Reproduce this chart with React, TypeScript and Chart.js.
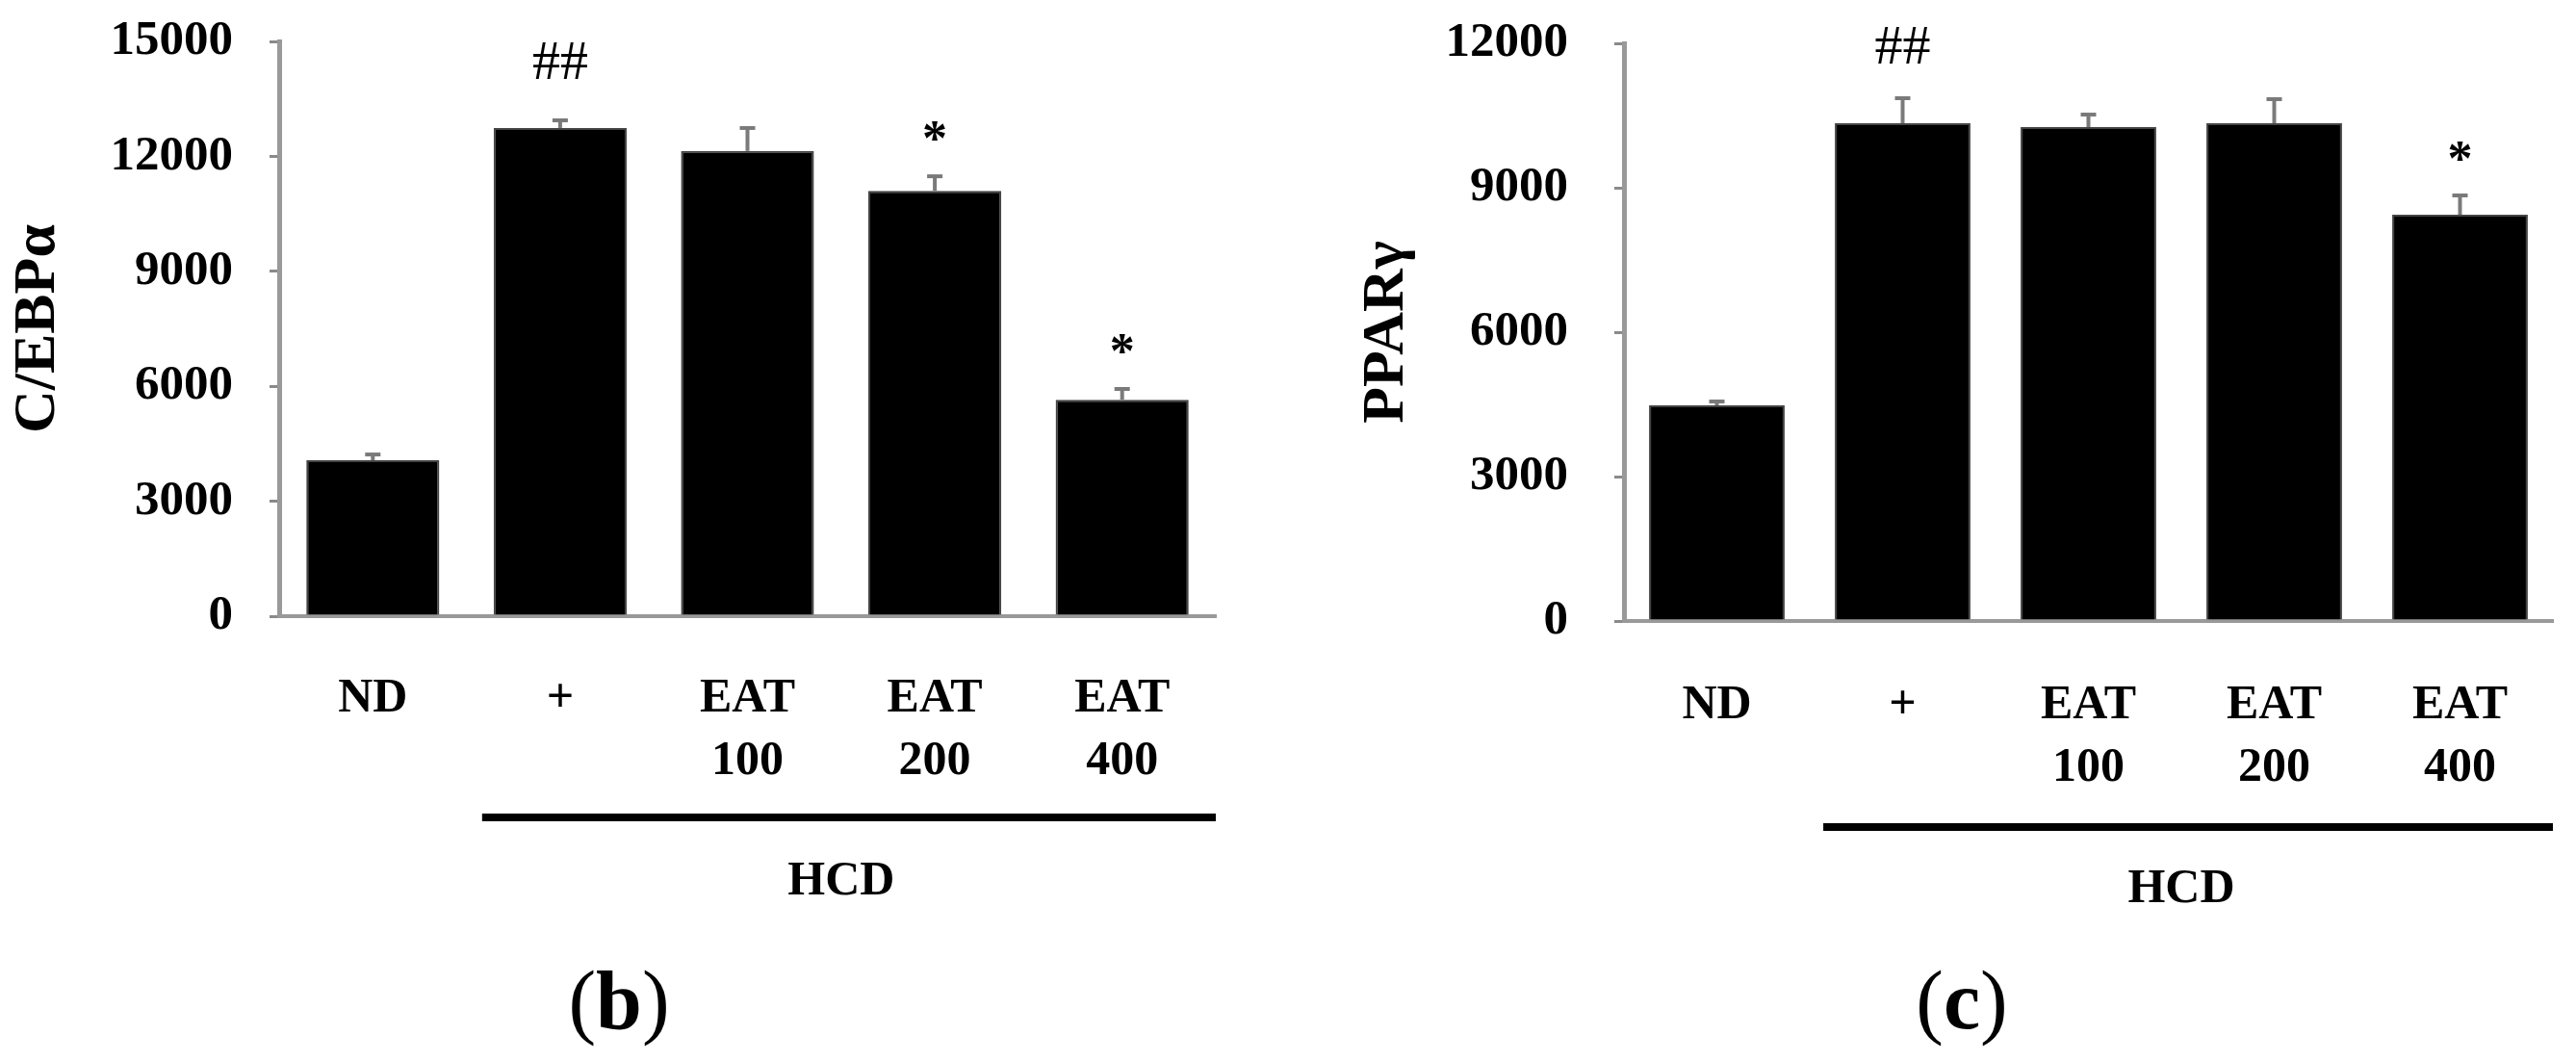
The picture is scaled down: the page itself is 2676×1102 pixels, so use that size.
import React, { useEffect, useRef } from 'react';
import { Chart, registerables } from 'chart.js';

Chart.register(...registerables);

// ---- data ----
const categories: (string | string[])[] = ['ND', '+', ['EAT', '100'], ['EAT', '200'], ['EAT', '400']];
const groupLabel = 'HCD';

const cebpaValues = [4070, 12740, 12140, 11100, 5650];
const cebpaErrors = [150, 200, 600, 380, 280];
const cebpaMarks = ['', '##', '', '*', '*'];
const cebpaTicks = [0, 3000, 6000, 9000, 12000, 15000];

const pparValues = [4480, 10340, 10260, 10340, 8440];
const pparErrors = [80, 520, 260, 500, 400];
const pparMarks = ['', '##', '', '', '*'];
const pparTicks = [0, 3000, 6000, 9000, 12000];

const FAMILY = '"Liberation Serif", "Times New Roman", serif';
const PAGE_H = 1102;

type PanelCfg = {
  left: number;
  width: number;
  axisWidth: number;
  xAxisHeight: number;
  padTop: number;
  padRight: number;
  title: string;
  titlePad: number;
  yTickPad: number;
  xTickPad: number;
  catPct: number;
  hashGap: number;
  starGap: number;
  bracketY: number;
  bracketTextY: number;
  panelLetter: string;
  panelLabelX: number;
  values: number[];
  errors: number[];
  marks: string[];
  ticks: number[];
};

const panels: PanelCfg[] = [
  {
    left: 0, width: 1340, axisWidth: 290, xAxisHeight: 462, padTop: 43, padRight: 77,
    title: 'C/EBPα', titlePad: 3, yTickPad: 38, xTickPad: 54, catPct: 0.71,
    hashGap: 62, starGap: 47, bracketY: 209, bracketTextY: 276,
    panelLetter: 'b', panelLabelX: 643,
    values: cebpaValues, errors: cebpaErrors, marks: cebpaMarks, ticks: cebpaTicks,
  },
  {
    left: 1340, width: 1336, axisWidth: 347, xAxisHeight: 457, padTop: 45, padRight: 24,
    title: 'PPARγ', titlePad: 64, yTickPad: 48, xTickPad: 56, catPct: 0.73,
    hashGap: 55, starGap: 46, bracketY: 214, bracketTextY: 279,
    panelLetter: 'c', panelLabelX: 698,
    values: pparValues, errors: pparErrors, marks: pparMarks, ticks: pparTicks,
  },
];

const overlayPlugin = {
  id: 'overlay',
  afterDatasetsDraw(chart: any, _args: any, opts: any) {
    const p: PanelCfg = opts.panel;
    const ctx: CanvasRenderingContext2D = chart.ctx;
    const meta = chart.getDatasetMeta(0);
    const y = chart.scales.y;
    const area = chart.chartArea;
    ctx.save();
    meta.data.forEach((bar: any, i: number) => {
      const v = p.values[i];
      const e = p.errors[i];
      const yTop = y.getPixelForValue(v + e);
      const yBar = y.getPixelForValue(v);
      ctx.strokeStyle = '#7a7a7a';
      ctx.lineWidth = 4;
      ctx.beginPath();
      ctx.moveTo(bar.x, yBar);
      ctx.lineTo(bar.x, yTop);
      ctx.stroke();
      ctx.beginPath();
      ctx.moveTo(bar.x - 8, yTop);
      ctx.lineTo(bar.x + 8, yTop);
      ctx.stroke();
      const mark = p.marks[i];
      if (mark) {
        const isHash = mark.indexOf('#') >= 0;
        ctx.font = isHash ? `normal 58px ${FAMILY}` : `bold 52px ${FAMILY}`;
        ctx.fillStyle = '#000';
        ctx.textAlign = 'center';
        ctx.textBaseline = 'alphabetic';
        const m = ctx.measureText(mark);
        const yc = yTop - (isHash ? p.hashGap : p.starGap);
        ctx.fillText(mark, bar.x, yc + (m.actualBoundingBoxAscent - m.actualBoundingBoxDescent) / 2);
      }
    });

    // group bracket
    const first = meta.data[1];
    const last = meta.data[meta.data.length - 1];
    const x0 = first.x - first.width / 2 - 12;
    const x1 = area.right;
    const by = area.bottom + p.bracketY;
    ctx.fillStyle = '#000';
    ctx.fillRect(x0, by - 4, x1 - x0, 8);
    ctx.font = `bold 50px ${FAMILY}`;
    ctx.textAlign = 'center';
    ctx.textBaseline = 'middle';
    ctx.fillText(groupLabel, (first.x + last.x) / 2, area.bottom + p.bracketTextY);

    // panel label "(b)" / "(c)"
    const parts: [string, string][] = [
      ['(', `normal 86px ${FAMILY}`],
      [p.panelLetter, `bold 86px ${FAMILY}`],
      [')', `normal 86px ${FAMILY}`],
    ];
    let total = 0;
    const widths = parts.map(([t, f]) => {
      ctx.font = f;
      const w = ctx.measureText(t).width;
      total += w;
      return w;
    });
    let cx = p.panelLabelX - total / 2;
    ctx.textAlign = 'left';
    ctx.textBaseline = 'alphabetic';
    parts.forEach(([t, f], i) => {
      ctx.font = f;
      ctx.fillText(t, cx, 1068);
      cx += widths[i];
    });
    ctx.restore();
  },
};

function Panel({ cfg }: { cfg: PanelCfg }) {
  const ref = useRef<HTMLCanvasElement | null>(null);
  useEffect(() => {
    if (!ref.current) return;
    const ticks = cfg.ticks;
    const chart = new Chart(ref.current, {
      type: 'bar',
      data: {
        labels: categories as any,
        datasets: [
          {
            data: cfg.values,
            backgroundColor: '#000',
            borderColor: '#444',
            borderWidth: 2,
            barPercentage: 1,
            categoryPercentage: cfg.catPct,
          },
        ],
      },
      options: {
        animation: false,
        responsive: false,
        devicePixelRatio: 1,
        layout: { padding: { top: cfg.padTop, right: cfg.padRight, left: 0, bottom: 0 } },
        plugins: {
          legend: { display: false },
          tooltip: { enabled: false },
          overlay: { panel: cfg },
        } as any,
        scales: {
          x: {
            afterFit: (s: any) => {
              s.height = cfg.xAxisHeight;
              s.paddingLeft = 0;
              s.paddingRight = 0;
            },
            grid: { display: false, drawTicks: false, tickLength: 0 },
            border: { display: true, color: '#999', width: 4 },
            ticks: {
              color: '#000',
              font: { family: FAMILY, size: 50, weight: 'bold', lineHeight: 1.3 },
              padding: cfg.xTickPad,
              autoSkip: false,
              maxRotation: 0,
              minRotation: 0,
            },
          },
          y: {
            min: ticks[0],
            max: ticks[ticks.length - 1],
            afterBuildTicks: (s: any) => {
              s.ticks = ticks.map((v) => ({ value: v }));
            },
            afterFit: (s: any) => {
              s.width = cfg.axisWidth;
              s.paddingTop = 0;
              s.paddingBottom = 0;
            },
            grid: {
              display: true,
              drawOnChartArea: false,
              drawTicks: true,
              tickLength: 10,
              color: '#8a8a8a',
              lineWidth: 3,
            },
            border: { display: true, color: '#999', width: 5 },
            ticks: {
              color: '#000',
              font: { family: FAMILY, size: 51, weight: 'bold', lineHeight: 1.2 },
              padding: cfg.yTickPad,
              callback: (v: any) => String(v),
            },
            title: {
              display: true,
              text: cfg.title,
              color: '#000',
              font: { family: FAMILY, size: 62, weight: 'bold', lineHeight: 1.2 },
              padding: { top: cfg.titlePad, bottom: 0 },
            },
          },
        },
      } as any,
      plugins: [overlayPlugin],
    });
    return () => chart.destroy();
  }, [cfg]);
  return (
    <canvas
      ref={ref}
      width={cfg.width}
      height={PAGE_H}
      style={{ position: 'absolute', left: cfg.left, top: 0, width: cfg.width, height: PAGE_H }}
    />
  );
}

export default function App() {
  useEffect(() => {
    document.body.style.margin = '0';
    document.body.style.background = '#fff';
  }, []);
  return (
    <div style={{ position: 'relative', width: 2676, height: PAGE_H, overflow: 'hidden', background: '#fff' }}>
      {panels.map((p, i) => (
        <Panel key={i} cfg={p} />
      ))}
    </div>
  );
}
